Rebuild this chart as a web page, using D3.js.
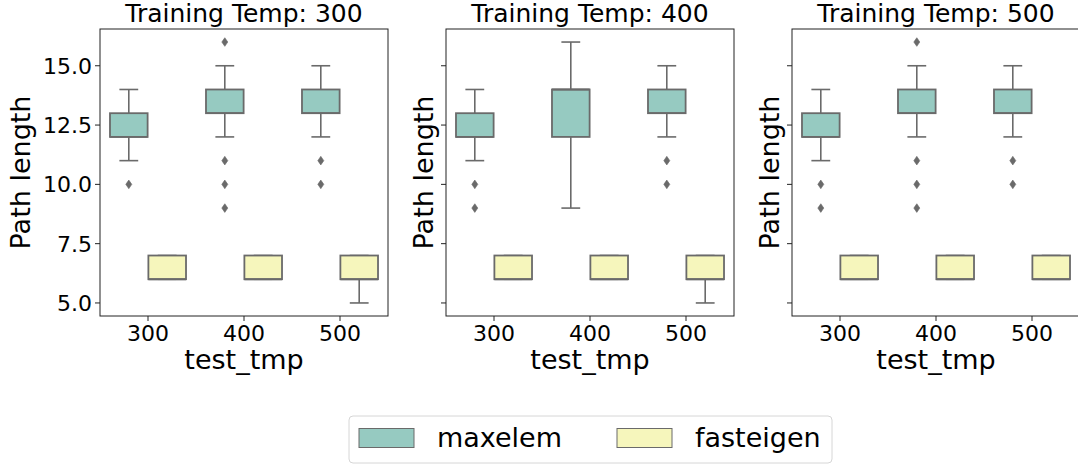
<!DOCTYPE html>
<html>
<head>
<meta charset="utf-8">
<script src="https://cdn.jsdelivr.net/npm/d3@7"></script>
<style>
  body { margin: 0; background: #fff; }
  text { font-family: "DejaVu Sans", sans-serif; fill: #000; }
</style>
</head>
<body>
<div class="chart"></div>
<script>
// facet / category values
const trainTemps = [300, 400, 500];
const testTemps = [300, 400, 500];
const methods = ["maxelem", "fasteigen"];
const yTicks = [5.0, 7.5, 10.0, 12.5, 15.0];

// box stats, indexed [trainTemp][testTemp]
const maxelemQ1 = [[12, 13, 13], [12, 12, 13], [12, 13, 13]];
const maxelemMed = [[12, 13, 13], [12, 14, 13], [12, 13, 13]];
const maxelemQ3 = [[13, 14, 14], [13, 14, 14], [13, 14, 14]];
const maxelemLo = [[11, 12, 12], [11, 9, 12], [11, 12, 12]];
const maxelemHi = [[14, 15, 15], [14, 16, 15], [14, 15, 15]];
const maxelemOut = [
  [[10], [16, 11, 10, 9], [11, 10]],
  [[10, 9], [], [11, 10]],
  [[10, 9], [16, 11, 10, 9], [11, 10]]
];

const fasteigenQ1 = [[6, 6, 6], [6, 6, 6], [6, 6, 6]];
const fasteigenMed = [[6, 6, 6], [6, 6, 6], [6, 6, 6]];
const fasteigenQ3 = [[7, 7, 7], [7, 7, 7], [7, 7, 7]];
const fasteigenLo = [[6, 6, 5], [6, 6, 5], [6, 6, 6]];
const fasteigenHi = [[7, 7, 7], [7, 7, 7], [7, 7, 7]];
const fasteigenOut = [[[], [], []], [[], [], []], [[], [], []]];

const stats = {
  maxelem: {q1: maxelemQ1, med: maxelemMed, q3: maxelemQ3, lo: maxelemLo, hi: maxelemHi, out: maxelemOut},
  fasteigen: {q1: fasteigenQ1, med: fasteigenMed, q3: fasteigenQ3, lo: fasteigenLo, hi: fasteigenHi, out: fasteigenOut}
};

const color = d3.scaleOrdinal().domain(methods).range(["#96cac1", "#f6f6bc"]);
const lineGray = "#6a6a6a";

const width = 1078, height = 465;
const panelLeft = [100, 446, 792];
const panelW = 288, plotTop = 29, plotBottom = 316;

const svg = d3.select(".chart").append("svg")
  .attr("width", width)
  .attr("height", height);

const y = d3.scaleLinear().domain([4.45, 16.55]).range([plotBottom, plotTop]);

trainTemps.forEach(function(tt, p) {
  let left = panelLeft[p];
  let g = svg.append("g").attr("transform", "translate(" + left + ",0)");

  let x = d3.scaleBand().domain(testTemps).range([0, panelW]);
  let hue = d3.scaleBand().domain(methods).range([-0.4 * x.bandwidth(), 0.4 * x.bandwidth()]);
  let bw = hue.bandwidth() * 0.98;

  // boxes
  testTemps.forEach(function(tp, j) {
    methods.forEach(function(m) {
      let s = stats[m];
      let cx = x(tp) + x.bandwidth() / 2 + hue(m) + hue.bandwidth() / 2;
      let b = g.append("g");
      // whiskers
      b.append("line")
        .attr("x1", cx).attr("x2", cx)
        .attr("y1", y(s.q1[p][j])).attr("y2", y(s.lo[p][j]))
        .attr("stroke", lineGray).attr("stroke-width", 1.6);
      b.append("line")
        .attr("x1", cx).attr("x2", cx)
        .attr("y1", y(s.q3[p][j])).attr("y2", y(s.hi[p][j]))
        .attr("stroke", lineGray).attr("stroke-width", 1.6);
      [s.lo[p][j], s.hi[p][j]].forEach(function(v) {
        b.append("line")
          .attr("x1", cx - bw / 4).attr("x2", cx + bw / 4)
          .attr("y1", y(v)).attr("y2", y(v))
          .attr("stroke", lineGray).attr("stroke-width", 1.6);
      });
      b.append("rect")
        .attr("x", cx - bw / 2)
        .attr("y", y(s.q3[p][j]))
        .attr("width", bw)
        .attr("height", y(s.q1[p][j]) - y(s.q3[p][j]))
        .attr("fill", color(m))
        .attr("stroke", lineGray)
        .attr("stroke-width", 1.8);
      b.append("line")
        .attr("x1", cx - bw / 2).attr("x2", cx + bw / 2)
        .attr("y1", y(s.med[p][j])).attr("y2", y(s.med[p][j]))
        .attr("stroke", lineGray).attr("stroke-width", 1.8);
      // outliers (thin diamonds)
      b.selectAll("path.out")
        .data(s.out[p][j])
        .enter()
        .append("path")
        .attr("class", "out")
        .attr("d", d => "M" + cx + "," + (y(d) - 4.3) + "L" + (cx + 3) + "," + y(d) +
          "L" + cx + "," + (y(d) + 4.3) + "L" + (cx - 3) + "," + y(d) + "Z")
        .attr("fill", lineGray)
        .attr("stroke", lineGray)
        .attr("stroke-width", 0.6);
    });
  });

  // frame
  g.append("rect")
    .attr("x", 0).attr("y", plotTop)
    .attr("width", panelW).attr("height", plotBottom - plotTop)
    .attr("fill", "none")
    .attr("stroke", "#222")
    .attr("stroke-width", 1);

  // x ticks
  testTemps.forEach(function(tp) {
    let tx = x(tp) + x.bandwidth() / 2;
    g.append("line").attr("x1", tx).attr("x2", tx)
      .attr("y1", plotBottom).attr("y2", plotBottom + 5)
      .attr("stroke", "#222");
    g.append("text").attr("x", tx).attr("y", 341)
      .attr("text-anchor", "middle").attr("font-size", 22)
      .text(tp);
  });

  // y ticks
  yTicks.forEach(function(v) {
    g.append("line").attr("x1", -5).attr("x2", 0)
      .attr("y1", y(v)).attr("y2", y(v))
      .attr("stroke", "#222");
    if (p == 0) {
      g.append("text").attr("x", -8).attr("y", y(v)).attr("dy", "0.36em")
        .attr("text-anchor", "end").attr("font-size", 22)
        .text(d3.format(".1f")(v));
    }
  });

  // labels
  g.append("text").attr("x", panelW / 2).attr("y", 22)
    .attr("text-anchor", "middle").attr("font-size", 25)
    .text("Training Temp: " + tt);
  g.append("text").attr("x", panelW / 2).attr("y", 369)
    .attr("text-anchor", "middle").attr("font-size", 27)
    .text("test_tmp");
  let ylx = p == 0 ? -70 : -13;
  g.append("text")
    .attr("transform", "translate(" + ylx + "," + ((plotTop + plotBottom) / 2) + ") rotate(-90)")
    .attr("text-anchor", "middle").attr("font-size", 27)
    .text("Path length");
});

// legend
const legend = svg.append("g");
legend.append("rect")
  .attr("x", 349).attr("y", 416)
  .attr("width", 483).attr("height", 47)
  .attr("rx", 4)
  .attr("fill", "#fff")
  .attr("stroke", "#d6d6d6")
  .attr("stroke-width", 1);
const legendX = [359, 617];
methods.forEach(function(m, i) {
  legend.append("rect")
    .attr("x", legendX[i]).attr("y", 428.5)
    .attr("width", 55).attr("height", 19)
    .attr("fill", color(m))
    .attr("stroke", lineGray)
    .attr("stroke-width", 1);
  legend.append("text")
    .attr("x", legendX[i] + 78).attr("y", 447)
    .attr("font-size", 27)
    .text(m);
});
</script>
</body>
</html>
